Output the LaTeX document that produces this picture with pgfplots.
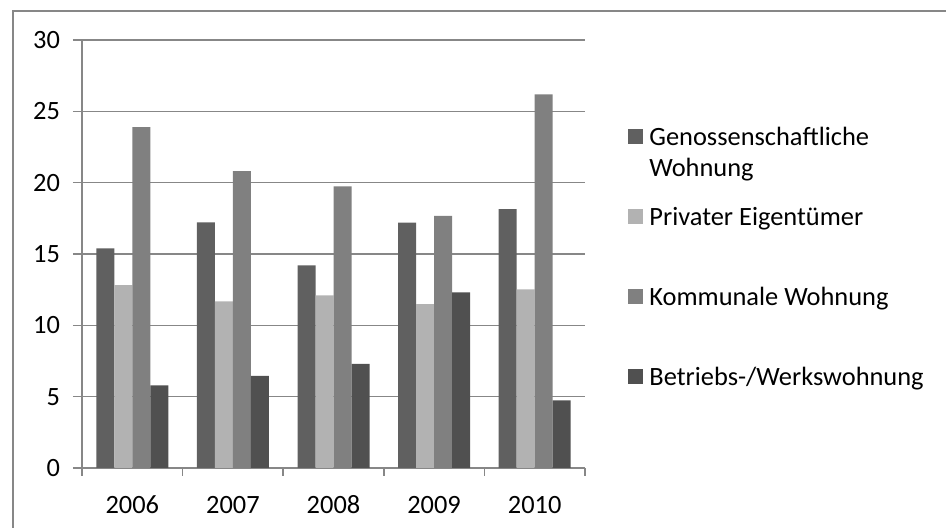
\documentclass[border=0pt]{standalone}
\usepackage{pgfplots}
\pgfplotsset{compat=1.18}
\usepackage{fontspec}
\setmainfont{Carlito}
\definecolor{cA}{HTML}{606060}
\definecolor{cB}{HTML}{B2B2B2}
\definecolor{cC}{HTML}{808080}
\definecolor{cD}{HTML}{505050}
\definecolor{gridc}{HTML}{878787}
\newcommand{\cf}{\fontsize{13.2pt}{15.5pt}\selectfont}
\begin{document}
\begin{tikzpicture}
\path[use as bounding box] (0,0) rectangle (473pt,264pt);
\draw[gridc, line width=0.9pt] (6.5pt,0) -- (6.5pt,258.5pt) -- (473pt,258.5pt);
\begin{axis}[
  at={(41pt,30pt)}, anchor=south west,
  scale only axis, width=251.5pt, height=214pt,
  xmin=-0.5, xmax=4.5, ymin=0, ymax=30,
  ybar=0pt, bar width=9pt,
  axis lines*=left,
  axis line style={gridc, line width=0.75pt},
  ymajorgrids, grid style={gridc, line width=0.75pt},
  ytick={0,5,...,30},
  xtick={0,1,2,3,4},
  xticklabels={2006,2007,2008,2009,2010},
  minor xtick={-0.5,0.5,...,4.5},
  tick align=outside,
  major x tick style={draw=none},
  minor tick length=4pt,
  major tick length=4.5pt,
  tick style={gridc, line width=0.75pt},
  font=\cf,
  /pgf/number format/assume math mode=true,
  yticklabel style={xshift=-3pt},
  xticklabel style={anchor=base, yshift=-18.5pt},
  clip=false,
]
\addplot[fill=cA, draw=none] coordinates {(0,15.40) (1,17.22) (2,14.20) (3,17.19) (4,18.15)};
\addplot[fill=cB, draw=none] coordinates {(0,12.82) (1,11.68) (2,12.10) (3,11.49) (4,12.52)};
\addplot[fill=cC, draw=none] coordinates {(0,23.90) (1,20.81) (2,19.74) (3,17.68) (4,26.19)};
\addplot[fill=cD, draw=none] coordinates {(0,5.79) (1,6.45) (2,7.29) (3,12.31) (4,4.74)};
\end{axis}
\fill[cA] (314pt,191.75pt) rectangle (321.5pt,199.25pt);
\fill[cB] (314pt,151.75pt) rectangle (321.5pt,159.25pt);
\fill[cC] (314pt,111.75pt) rectangle (321.5pt,119.25pt);
\fill[cD] (314pt,71.75pt) rectangle (321.5pt,79.25pt);
\node[anchor=base west, inner sep=0pt, font=\cf] at (324.5pt,191.3pt) {Genossenschaftliche};
\node[anchor=base west, inner sep=0pt, font=\cf] at (324.5pt,175.8pt) {Wohnung};
\node[anchor=base west, inner sep=0pt, font=\cf] at (324.5pt,151.3pt) {Privater Eigentümer};
\node[anchor=base west, inner sep=0pt, font=\cf] at (324.5pt,111.3pt) {Kommunale Wohnung};
\node[anchor=base west, inner sep=0pt, font=\cf] at (324.5pt,71.3pt) {Betriebs-/Werkswohnung};
\end{tikzpicture}
\end{document}
